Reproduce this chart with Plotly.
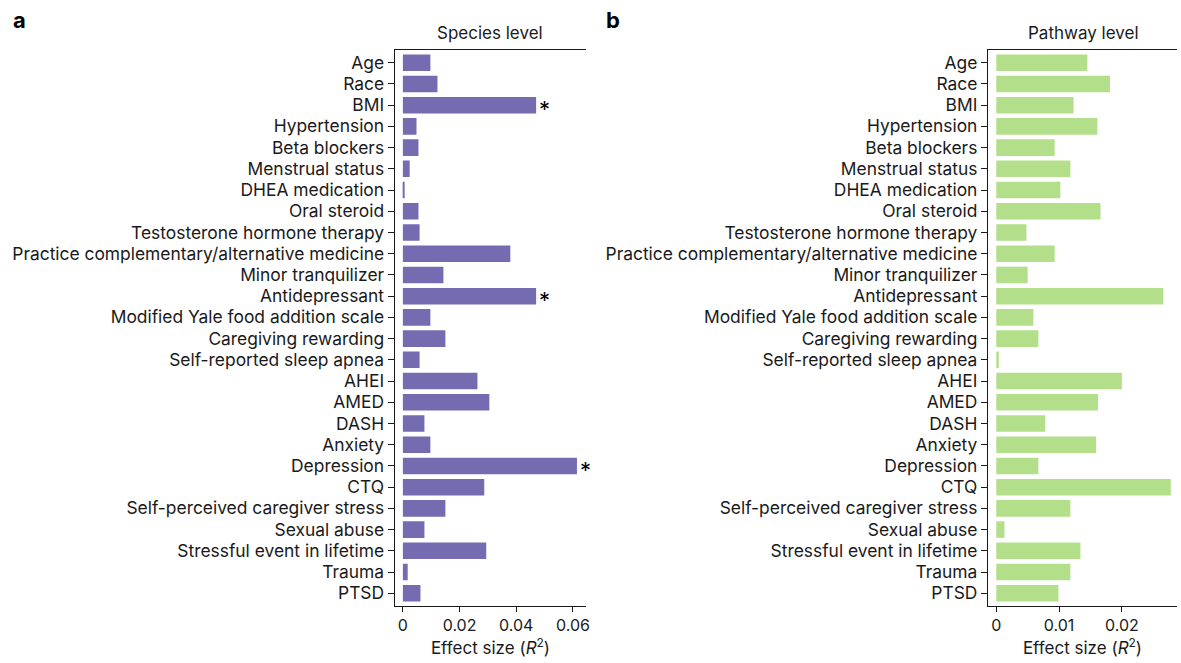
import plotly.graph_objects as go

W, H = 1181, 663

categories = [
    "Age", "Race", "BMI", "Hypertension", "Beta blockers", "Menstrual status",
    "DHEA medication", "Oral steroid", "Testosterone hormone therapy",
    "Practice complementary/alternative medicine", "Minor tranquilizer",
    "Antidepressant", "Modified Yale food addition scale", "Caregiving rewarding",
    "Self-reported sleep apnea", "AHEI", "AMED", "DASH", "Anxiety", "Depression",
    "CTQ", "Self-perceived caregiver stress", "Sexual abuse",
    "Stressful event in lifetime", "Trauma", "PTSD",
]

species_r2 = [
    0.0097, 0.0122, 0.0470, 0.0048, 0.0055, 0.0024, 0.0003, 0.0055, 0.0059,
    0.0379, 0.0143, 0.0470, 0.0097, 0.0150, 0.0059, 0.0263, 0.0305, 0.0076,
    0.0097, 0.0614, 0.0287, 0.0150, 0.0076, 0.0294, 0.0017, 0.0062,
]

pathway_r2 = [
    0.0145, 0.0181, 0.0123, 0.0161, 0.0093, 0.0118, 0.0102, 0.0166, 0.0048,
    0.0093, 0.0050, 0.0266, 0.0059, 0.0067, 0.0004, 0.0200, 0.0162, 0.0078,
    0.0159, 0.0067, 0.0278, 0.0118, 0.0013, 0.0134, 0.0118, 0.0099,
]

# significant associations at species level
species_sig = ["BMI", "Antidepressant", "Depression"]

x_ticks_species = [0, 0.02, 0.04, 0.06]
x_ticks_pathway = [0, 0.01, 0.02]

PURPLE = "#756bb1"
GREEN = "#b3df8a"
INK = "#1a1a1a"
FONT = "Inter"

fig = go.Figure()

fig.add_trace(go.Bar(
    x=species_r2, y=categories, orientation="h", width=0.78,
    marker=dict(color=PURPLE, line=dict(width=0)),
    xaxis="x", yaxis="y", showlegend=False, hoverinfo="x+y",
))
fig.add_trace(go.Bar(
    x=pathway_r2, y=categories, orientation="h", width=0.78,
    marker=dict(color=GREEN, line=dict(width=0)),
    xaxis="x2", yaxis="y2", showlegend=False, hoverinfo="x+y",
))

px2fx = lambda p: p / W
px2fy = lambda p: 1 - p / H

dom_y = [px2fy(606), px2fy(50)]

common_y = dict(
    categoryorder="array", categoryarray=categories[::-1],
    range=[-0.6, len(categories) - 0.4],
    showline=True, linecolor=INK, linewidth=1.2, mirror=False,
    ticks="outside", ticklen=6, tickwidth=1, tickcolor=INK,
    tickfont=dict(size=17.4, color=INK, family=FONT),
    showgrid=False, zeroline=False, domain=dom_y, fixedrange=True,
)
common_x = dict(
    showline=True, linecolor=INK, linewidth=1.2, mirror=True,
    ticks="outside", ticklen=5, tickwidth=1, tickcolor=INK,
    tickfont=dict(size=16, color=INK, family=FONT),
    showgrid=False, zeroline=False, fixedrange=True,
    title=dict(text="Effect size (<i>R</i><sup>2</sup>)",
               font=dict(size=17, color=INK, family=FONT), standoff=5),
)

fig.update_layout(
    width=W, height=H,
    margin=dict(l=0, r=0, t=0, b=0),
    paper_bgcolor="white", plot_bgcolor="white",
    xaxis=dict(common_x, domain=[px2fx(396), px2fx(588.3)], range=[-0.0029, 0.0647],
               tickvals=x_ticks_species, ticktext=["0", "0.02", "0.04", "0.06"],
               anchor="y"),
    yaxis=dict(common_y, anchor="x"),
    xaxis2=dict(common_x, domain=[px2fx(991.3), 1.0], range=[-0.00133, 0.02878],
                tickvals=x_ticks_pathway, ticktext=["0", "0.01", "0.02"],
                anchor="y2"),
    yaxis2=dict(common_y, anchor="x2"),
    font=dict(family=FONT, color=INK),
)

# asterisks next to significant bars
for cat in species_sig:
    fig.add_annotation(xref="x", yref="y", x=species_r2[categories.index(cat)], y=cat,
                       text="*", showarrow=False, xanchor="left", yanchor="middle",
                       xshift=1, yshift=-4,
                       font=dict(size=22, color="black", family=FONT))

for text, xc in [("Species level", 492), ("Pathway level", 1087)]:
    fig.add_annotation(xref="paper", yref="paper", x=px2fx(xc), y=px2fy(33),
                       text=text, showarrow=False, xanchor="center",
                       yanchor="middle", font=dict(size=17, color=INK, family=FONT))

for letter, xp in [("a", 11), ("b", 606)]:
    fig.add_annotation(xref="paper", yref="paper", x=px2fx(xp), y=px2fy(20),
                       text=f"<b>{letter}</b>", showarrow=False, xanchor="left",
                       yanchor="middle", font=dict(size=22, color="black", family=FONT))

fig.write_html("out.html", config={"displayModeBar": False})
